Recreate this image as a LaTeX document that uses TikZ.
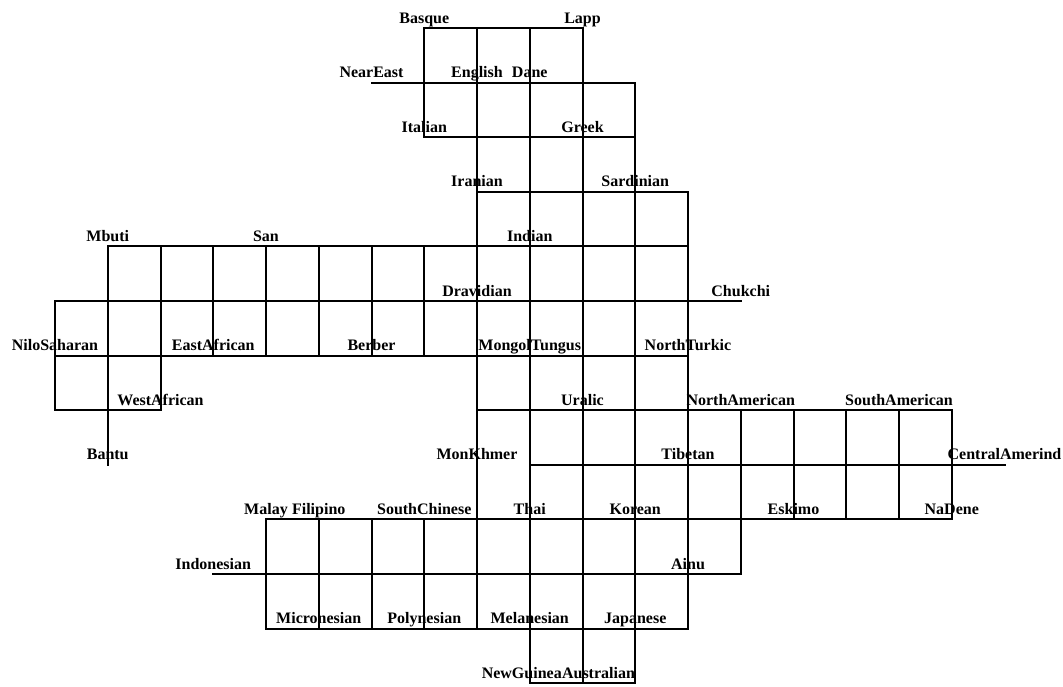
\documentclass[tikz,border=0pt]{standalone}
\usepackage{fontspec}
\setmainfont{Liberation Serif}
\begin{document}
\begin{tikzpicture}[x=52.75pt,y=-54.6pt,
  gridline/.style={line width=2pt,line cap=rect,black},
  lab/.style={anchor=base,inner sep=0pt,yshift=5pt,font=\fontsize{16pt}{18pt}\selectfont\bfseries}]
\useasboundingbox (-1.04265,-0.51282) rectangle (19.1090,12.0513);
% horizontal segments: row / from column / to column
\foreach \r/\a/\b in {0/7/10,1/6/11,2/7/11,3/8/12,4/1/12,5/0/13,6/0/12,7/0/2,7/8/17,8/9/18,9/4/17,10/3/13,11/4/12,12/9/11}
  \draw[gridline] (\a,\r) -- (\b,\r);
% vertical segments: column / from row / to row
\foreach \c/\a/\b in {0/5/7,1/4/8,2/4/7,3/4/6,4/4/6,4/9/11,5/4/6,5/9/11,6/4/6,6/9/11,7/0/2,7/4/6,7/9/11,8/0/11,9/0/12,10/0/12,11/1/12,12/3/11,13/7/10,14/7/9,15/7/9,16/7/9,17/7/9}
  \draw[gridline] (\c,\a) -- (\c,\b);
% labels
\foreach \c/\r/\t in {7/0/Basque,10/0/Lapp,6/1/NearEast,8/1/English,9/1/Dane,7/2/Italian,10/2/Greek,8/3/Iranian,11/3/Sardinian,1/4/Mbuti,4/4/San,9/4/Indian,8/5/Dravidian,13/5/Chukchi,0/6/NiloSaharan,3/6/EastAfrican,6/6/Berber,9/6/MongolTungus,12/6/NorthTurkic,2/7/WestAfrican,10/7/Uralic,13/7/NorthAmerican,16/7/SouthAmerican,1/8/Bantu,8/8/MonKhmer,12/8/Tibetan,18/8/CentralAmerind,4/9/Malay,5/9/Filipino,7/9/SouthChinese,9/9/Thai,11/9/Korean,14/9/Eskimo,17/9/NaDene,3/10/Indonesian,12/10/Ainu,5/11/Micronesian,7/11/Polynesian,9/11/Melanesian,11/11/Japanese}
  \node[lab] (\t) at (\c,\r) {\t};
\node[lab,xshift=-8pt] (NewGuinea) at (9,12) {NewGuinea};
\node[lab,xshift=16pt] (Australian) at (10,12) {Australian};
\end{tikzpicture}
\end{document}
